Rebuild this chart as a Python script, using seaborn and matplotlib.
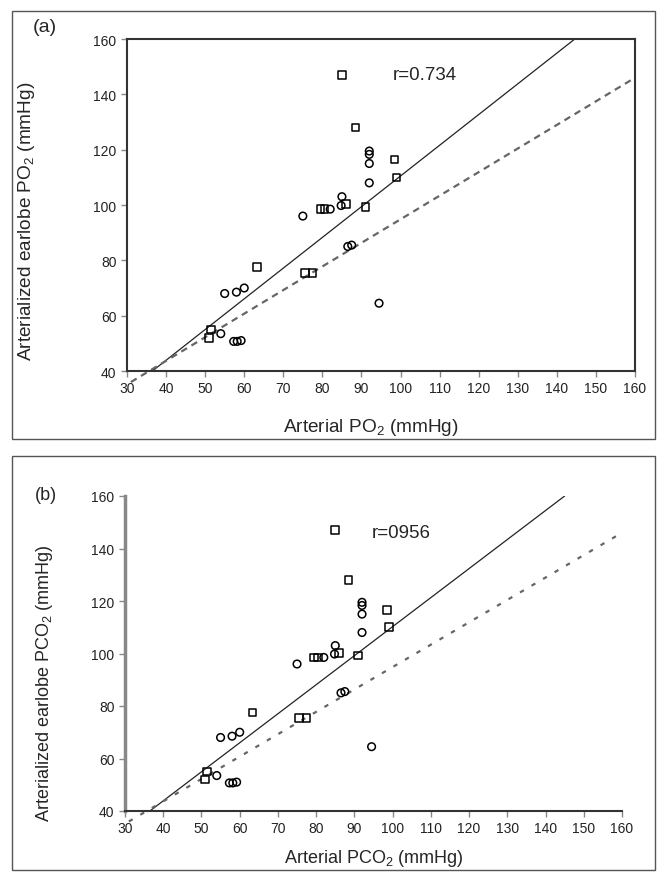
import matplotlib
matplotlib.use("Agg")
import matplotlib.pyplot as plt
import seaborn as sns
import pandas as pd
from matplotlib.patches import Rectangle

# scatter values (same points in both panels)
arterial = [85, 88.5, 92, 92, 92, 98.5, 92, 99, 85, 84.8, 86, 79.5, 80.5, 82,
            91, 75, 86.5, 87.5, 75.5, 77.5, 94.5, 63.3, 55, 58, 60, 51, 51.5,
            54, 57.3, 58.2, 59.2]
earlobe = [147, 128, 119.5, 118.3, 115, 116.5, 108, 110, 103, 99.8, 100.3,
           98.5, 98.5, 98.5, 99.3, 96, 85, 85.5, 75.5, 75.5, 64.5, 77.5, 68,
           68.5, 70, 52, 55, 53.5, 50.7, 50.7, 51]
shape = ["s", "s", "o", "o", "o", "s", "o", "s", "o", "o", "s", "s", "s", "o",
         "s", "o", "o", "o", "s", "s", "o", "s", "o", "o", "o", "s", "s", "o",
         "o", "o", "o"]

# regression (solid) and comparison (dashed) lines, endpoints from the figure
solid_a_x, solid_a_y = [36.5, 144.6], [40, 160]
dash_a_x, dash_a_y = [31, 160], [36, 146]
solid_b_x, solid_b_y = [36.5, 145], [40, 160]
dash_b_x, dash_b_y = [31, 160], [36, 146]

x_ticks = list(range(30, 161, 10))
y_ticks = list(range(40, 161, 20))

sns.set_style("ticks")
plt.rcParams["font.family"] = ["Liberation Sans", "DejaVu Sans"]
plt.rcParams["mathtext.fontset"] = "custom"
plt.rcParams["mathtext.rm"] = "Liberation Sans"
plt.rcParams["mathtext.it"] = "Liberation Sans:italic"

W, H = 661, 879
fig = plt.figure(figsize=(W / 100, H / 100), dpi=100)

df = pd.DataFrame({"x": arterial, "y": earlobe, "m": shape})


def px_axes(left, right, top, bottom):
    return fig.add_axes([left / W, 1 - bottom / H, (right - left) / W, (bottom - top) / H])


def frame(left, right, top, bottom):
    fig.patches.append(Rectangle((left / W, 1 - bottom / H), (right - left) / W,
                                 (bottom - top) / H, transform=fig.transFigure,
                                 fill=False, edgecolor="#555555", linewidth=1.0))


def panel(ax, sx, sy, dx, dy, dash, r_text, r_pos, ylab, xlab, lab_size, boxed):
    ax.set_facecolor("white")
    sns.scatterplot(data=df, x="x", y="y", style="m", markers={"s": "s", "o": "o"},
                    s=30, facecolor="none", edgecolor="black", linewidth=1.1,
                    legend=False, ax=ax, zorder=3)
    ax.plot(sx, sy, color="#222222", lw=0.9)
    ax.plot(dx, dy, color="#666666", lw=1.6, linestyle=(0, dash), clip_on=False)
    ax.set_xlim(30, 160)
    ax.set_ylim(40, 160)
    ax.set_xticks(x_ticks)
    ax.set_yticks(y_ticks)
    ax.tick_params(labelsize=10, length=4, width=1, color="#888888", labelcolor="#222222")
    for side in ["left", "bottom", "top", "right"]:
        ax.spines[side].set_color("#333333")
        ax.spines[side].set_linewidth(1.5)
    if not boxed:
        sns.despine(ax=ax)
        ax.spines["left"].set_color("#888888")
        ax.spines["left"].set_linewidth(2.5)
    ax.text(r_pos[0], r_pos[1], r_text, fontsize=13.5, va="center", ha="left")
    ax.set_xlabel(xlab, fontsize=lab_size)
    ax.set_ylabel(ylab, fontsize=lab_size)
    return ax


# panel (a)
frame(12, 655, 12, 440)
ax_a = px_axes(127, 635, 40, 372)
panel(ax_a, solid_a_x, solid_a_y, dash_a_x, dash_a_y, (3, 2.3), "r=0.734", (98, 147),
      r"Arterialized earlobe PO$_2$ (mmHg)", r"Arterial PO$_2$ (mmHg)", 13.7, True)
ax_a.xaxis.set_label_coords(0.48, -0.135)
ax_a.yaxis.set_label_coords(-0.177, 0.455)
fig.text(45 / W, 1 - 28 / H, "(a)", fontsize=14, ha="center", va="center")

# panel (b)
frame(12, 655, 457, 871)
ax_b = px_axes(125, 622, 497, 812)
panel(ax_b, solid_b_x, solid_b_y, dash_b_x, dash_b_y, (2, 4), "r=0956", (94.5, 146),
      r"Arterialized earlobe PCO$_2$ (mmHg)", r"Arterial PCO$_2$ (mmHg)", 13, False)
ax_b.xaxis.set_label_coords(0.5, -0.115)
ax_b.yaxis.set_label_coords(-0.14, 0.41)
fig.text(46 / W, 1 - 495 / H, "(b)", fontsize=13, ha="center", va="center")

fig.savefig("out.png", dpi=100)
